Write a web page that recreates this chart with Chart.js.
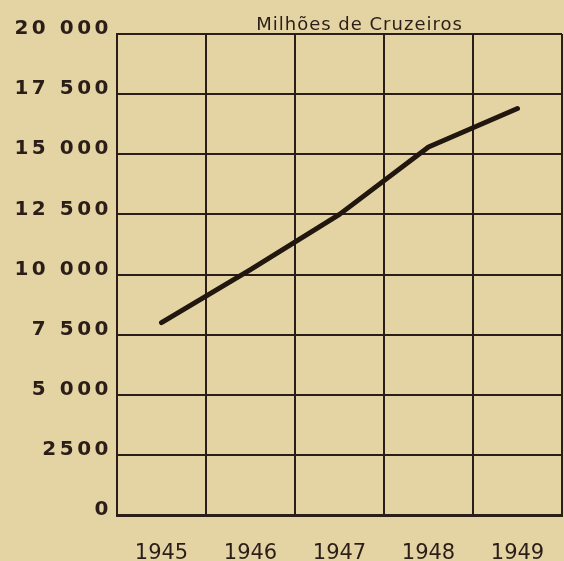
<!DOCTYPE html>
<html>
<head>
<meta charset="utf-8">
<script src="https://cdn.jsdelivr.net/npm/chart.js@4/dist/chart.umd.min.js"></script>
<style>
  html, body { margin: 0; padding: 0; background: #e4d4a4; }
  #wrap { width: 564px; height: 561px; position: relative; }
</style>
</head>
<body>
<div id="wrap"><canvas id="grafik"></canvas></div>
<script>
// dados
const anos = ['1945', '1946', '1947', '1948', '1949'];
const valores = [8000, 10200, 12500, 15300, 16900];
const rotulosY = ['0', '2500', '5 000', '7 500', '10 000', '12 500', '15 000', '17 500', '20 000'];
const titulo = 'Milhões de Cruzeiros';

const tinta = '#2b1d17';

// rotulos do eixo Y com letras abertas (letterSpacing so nesse eixo)
function espacarEixoY(chart) {
    const esc = chart.scales.y;
    if (!esc || esc._espacado) return;
    const original = esc.drawLabels.bind(esc);
    esc.drawLabels = function (area) {
        const ctx = this.ctx;
        ctx.save();
        ctx.letterSpacing = '3.5px';
        original(area);
        ctx.restore();
    };
    esc._espacado = true;
}

const pluginTitulo = {
    id: 'tituloManual',
    beforeDraw(chart) {
        chart.ctx.letterSpacing = '0px';
        espacarEixoY(chart);
    },
    afterDraw(chart) {
        const ctx = chart.ctx;
        const area = chart.chartArea;
        ctx.save();
        ctx.letterSpacing = '1px';
        ctx.font = '18px "DejaVu Sans"';
        ctx.fillStyle = tinta;
        ctx.textAlign = 'center';
        ctx.textBaseline = 'alphabetic';
        ctx.fillText(titulo, area.left + (area.right - area.left) * 0.545, area.top - 4);
        ctx.restore();
    }
};

new Chart(document.getElementById('grafik').getContext('2d'), {
    type: 'line',
    data: {
        labels: anos,
        datasets: [{
            data: valores,
            borderColor: '#22170f',
            borderWidth: 5,
            borderCapStyle: 'round',
            borderJoinStyle: 'round',
            pointRadius: 0,
            tension: 0,
            fill: false
        }]
    },
    options: {
        responsive: true, maintainAspectRatio: false,
        animation: false,
        layout: { padding: { top: 34, right: 2, left: 0, bottom: 0 } },
        plugins: { legend: { display: false }, tooltip: { enabled: false } },
        scales: {
            x: {
                offset: true,
                grid: { color: tinta, lineWidth: 2, drawTicks: false, offset: true },
                border: { color: tinta, width: 3 },
                ticks: { color: tinta, font: { family: 'DejaVu Sans', size: 21 }, padding: 26, maxRotation: 0 },
                afterFit(s) { s.height = 46; s.paddingLeft = 0; s.paddingRight = 0; }
            },
            y: {
                min: 0, max: 20000,
                grid: { color: tinta, lineWidth: 2, drawTicks: false },
                border: { color: tinta, width: 2 },
                ticks: {
                    stepSize: 2500,
                    color: tinta,
                    font: { family: 'DejaVu Sans', size: 20, weight: 'bold' },
                    padding: 5,
                    labelOffset: -5,
                    callback: (v, i) => rotulosY[i]
                },
                afterFit(s) { s.width = 117; }
            }
        }
    },
    plugins: [pluginTitulo]
});
</script>
</body>
</html>
